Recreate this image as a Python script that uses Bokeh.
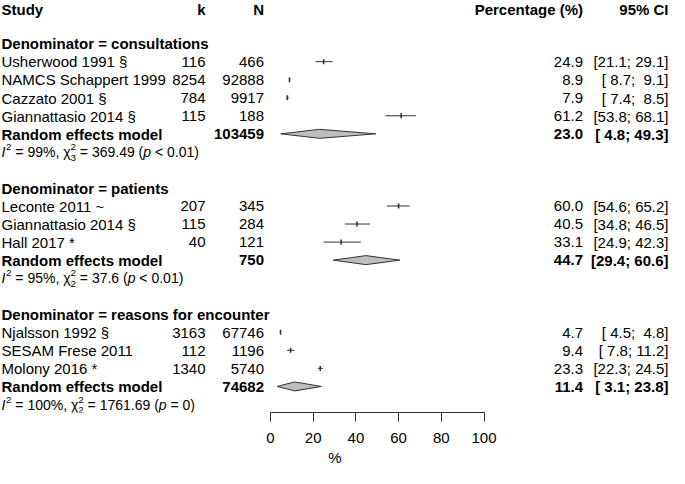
from bokeh.plotting import figure
from bokeh.models import Range1d, FixedTicker
from bokeh.embed import file_html
from bokeh.resources import INLINE
from bokeh.core.properties import value

# ---------------- data ----------------
headers = ["Study", "k", "N", "Percentage (%)", "95% CI"]
groups = ["Denominator = consultations",
          "Denominator = patients",
          "Denominator = reasons for encounter"]
studies = [["Usherwood 1991 §", "NAMCS Schappert 1999", "Cazzato 2001 §", "Giannattasio 2014 §"],
           ["Leconte 2011 ~", "Giannattasio 2014 §", "Hall 2017 *"],
           ["Njalsson 1992 §", "SESAM Frese 2011", "Molony 2016 *"]]
events = [[116, 8254, 784, 115], [207, 115, 40], [3163, 112, 1340]]
totals = [[466, 92888, 9917, 188], [345, 284, 121], [67746, 1196, 5740]]
est = [[24.9, 8.9, 7.9, 61.2], [60.0, 40.5, 33.1], [4.7, 9.4, 23.3]]
lower = [[21.1, 8.7, 7.4, 53.8], [54.6, 34.8, 24.9], [4.5, 7.8, 22.3]]
upper = [[29.1, 9.1, 8.5, 68.1], [65.2, 46.5, 42.3], [4.8, 11.2, 24.5]]
re_label = "Random effects model"
re_total = [103459, 750, 74682]
re_est = [23.0, 44.7, 11.4]
re_lower = [4.8, 29.4, 3.1]
re_upper = [49.3, 60.6, 23.8]
het_i2 = ["99%", "95%", "100%"]
het_q = ["369.49", "37.6", "1761.69"]
het_df = ["3", "2", "2"]
het_p = ["< 0.01", "< 0.01", "= 0"]
x_ticks = [0, 20, 40, 60, 80, 100]
x_label = "%"

# ---------------- layout ----------------
W, H = 669, 468
FRAME_H = 411
PXP = 2.135           # px per percent
ZERO = 270.0          # px of 0 %
X0 = -ZERO / PXP
X1 = (W - ZERO) / PXP
ROW = 18.0
ROW0 = 7.0
TY = 0.3 / ROW        # small downward nudge for text
TY_HEAD = 1.5 / ROW
FONT = value("Liberation Sans")
FS = "15px"
HFS = 14.0
SUBFS = HFS * 0.7


def X(px):
    return X0 + px / PXP


COL_STUDY, COL_K, COL_N, COL_PCT, COL_CI = X(1), X(205), X(263.5), X(582.5), X(668)

p = figure(width=W, height=H, x_range=Range1d(X0, X1),
           y_range=Range1d(-ROW0 / ROW + FRAME_H / ROW, -ROW0 / ROW),
           output_backend="svg", toolbar_location=None, tools="",
           y_axis_location=None, min_border=0)
p.grid.visible = False
p.outline_line_color = None

txt = {}


def add(key, x, y, s, dy=TY):
    d = txt.setdefault(key, {"x": [], "y": [], "t": []})
    d["x"].append(x); d["y"].append(y + dy); d["t"].append(s)


def nb(s):
    return s.replace(" ", "\u00a0")


def ci(lo, hi):
    return nb(f"[{lo:4.1f}; {hi:4.1f}]")


# header
add(("bold", "left"), COL_STUDY, 0, headers[0], TY_HEAD)
add(("bold", "right"), COL_K, 0, headers[1], TY_HEAD)
add(("bold", "right"), COL_N, 0, headers[2], TY_HEAD)
add(("bold", "right"), COL_PCT, 0, headers[3], TY_HEAD)
add(("bold", "right"), COL_CI, 0, headers[4], TY_HEAD)

seg = {"x0": [], "x1": [], "y": []}
pts = {"x": [], "y": []}
dia = {"xs": [], "ys": []}
het_rows = []

row = 2
for g in range(len(groups)):
    add(("bold", "left"), COL_STUDY, row, groups[g])
    for i in range(len(studies[g])):
        r = row + 1 + i
        add(("normal", "left"), COL_STUDY, r, studies[g][i])
        add(("normal", "right"), COL_K, r, str(events[g][i]))
        add(("normal", "right"), COL_N, r, str(totals[g][i]))
        add(("normal", "right"), COL_PCT, r, f"{est[g][i]:.1f}")
        add(("normal", "right"), COL_CI, r, ci(lower[g][i], upper[g][i]))
        seg["x0"].append(lower[g][i]); seg["x1"].append(upper[g][i]); seg["y"].append(r)
        pts["x"].append(est[g][i]); pts["y"].append(r)
    r = row + 1 + len(studies[g])
    add(("bold", "left"), COL_STUDY, r, re_label)
    add(("bold", "right"), COL_N, r, str(re_total[g]))
    add(("bold", "right"), COL_PCT, r, f"{re_est[g]:.1f}")
    add(("bold", "right"), COL_CI, r, ci(re_lower[g], re_upper[g]))
    hh = 0.25
    dia["xs"].append([re_lower[g], re_est[g], re_upper[g], re_est[g]])
    dia["ys"].append([r, r - hh, r, r + hh])
    het_rows.append(r + 1)
    row += len(studies[g]) + 4

# marks
p.segment(x0=seg["x0"], y0=seg["y"], x1=seg["x1"], y1=seg["y"], line_color="#333333", line_width=1)
p.rect(x=pts["x"], y=pts["y"], width=1.6, height=5, width_units="screen", height_units="screen",
       fill_color="#333333", line_color=None)
p.patches(xs=dia["xs"], ys=dia["ys"], fill_color="#bebebe", line_color="#333333", line_width=1)

for (style, align), d in txt.items():
    p.text(x=d["x"], y=d["y"], text=d["t"], text_font=FONT, text_font_size=FS,
           text_font_style=style, text_align=align, text_baseline="middle", text_color="black")

# heterogeneity lines
WID = {' ': 278, '=': 584, '%': 889, ',': 278, '.': 278, '(': 333, ')': 333, '<': 584,
       'χ': 520, 'I': 278, 'p': 556}


def tw(s, size):
    return sum(WID.get(c, 556) for c in s) * size / 1000.0


het = {"normal": {"x": [], "y": [], "t": []}, "italic": {"x": [], "y": [], "t": []},
       "small": {"x": [], "y": [], "t": []}}


def hadd(kind, px, y, s):
    het[kind]["x"].append(X(px)); het[kind]["y"].append(y + TY); het[kind]["t"].append(s)


SP = tw(" ", HFS)
SUP, SUB = -0.28, 0.30
for g, r in enumerate(het_rows):
    px = 1.0
    hadd("italic", px, r, "I"); px += tw("I", HFS) + 0.6
    hadd("small", px, r + SUP, "2"); px += tw("2", SUBFS) + SP
    s = f"= {het_i2[g]},"
    hadd("normal", px, r, nb(s)); px += tw(s, HFS) + SP
    hadd("normal", px, r, "χ"); px += tw("χ", HFS)
    hadd("small", px, r + SUP, "2")
    hadd("small", px, r + SUB, het_df[g]); px += tw("2", SUBFS) + SP
    s = f"= {het_q[g]} ("
    hadd("normal", px, r, nb(s)); px += tw(s, HFS)
    hadd("italic", px, r, "p"); px += tw("p", HFS) + SP
    s = f"{het_p[g]})"
    hadd("normal", px, r, nb(s))

for kind, d in het.items():
    p.text(x=d["x"], y=d["y"], text=d["t"], text_font=FONT,
           text_font_size=f"{SUBFS if kind == 'small' else HFS}px",
           text_font_style="italic" if kind == "italic" else "normal",
           text_align="left", text_baseline="middle", text_color="black")

# axis
ax = p.xaxis[0]
ax.ticker = FixedTicker(ticks=x_ticks)
ax.bounds = (x_ticks[0], x_ticks[-1])
ax.axis_label = x_label
ax.axis_line_color = "#333333"
ax.major_tick_line_color = "#333333"
ax.major_tick_out = 9
ax.major_tick_in = 0
ax.minor_tick_line_color = None
ax.major_label_standoff = 11
ax.major_label_text_font = "Liberation Sans"
ax.major_label_text_font_size = "15px"
ax.major_label_text_color = "black"
ax.axis_label_text_font = "Liberation Sans"
ax.axis_label_text_font_size = "15px"
ax.axis_label_text_font_style = "normal"
ax.axis_label_text_color = "black"
ax.axis_label_standoff = 3

open("out.html", "w").write(file_html(p, INLINE))
